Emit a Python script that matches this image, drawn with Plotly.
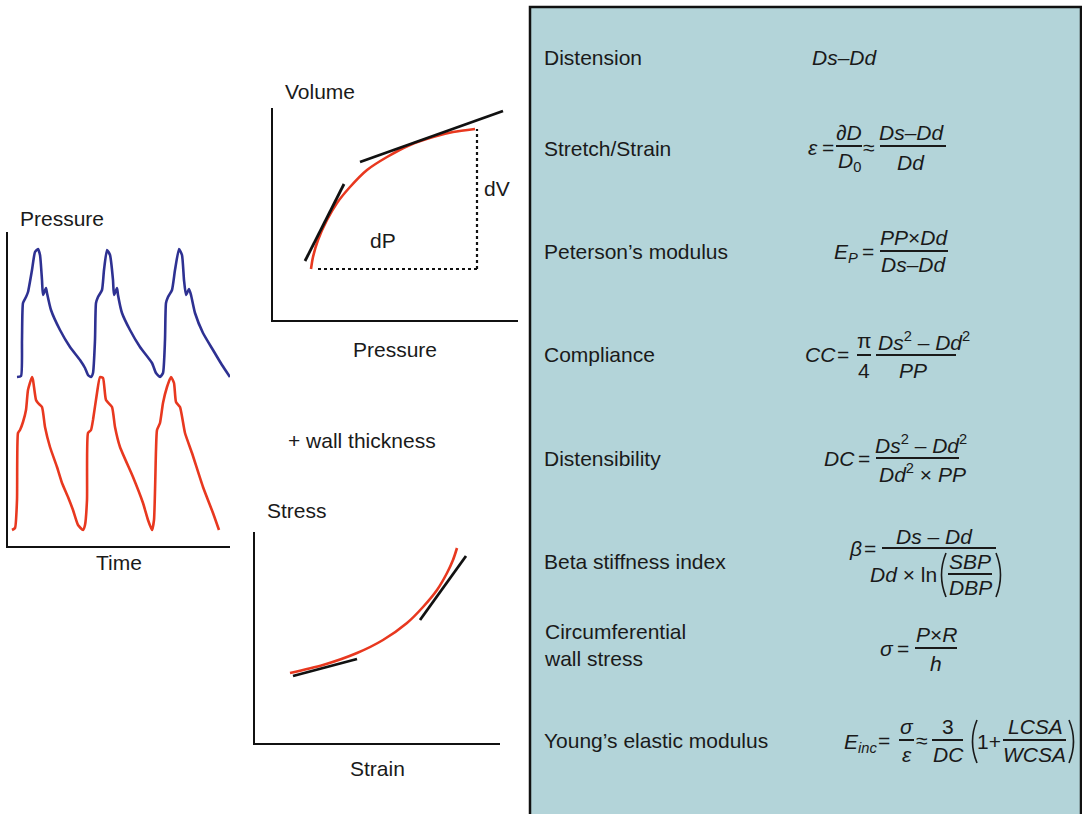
import plotly.graph_objects as go

W, H = 1082, 814

# ---------------- data ----------------
# Panel 1: pressure waveforms vs time (arbitrary units)
central_time = [9, 13, 14, 15, 18, 20, 24, 27, 30, 32, 34, 35, 38, 39, 43, 52, 62, 72, 77, 80, 83,
                85, 87, 88, 90, 94, 96, 99, 102, 105, 106, 109, 110, 114, 122, 132, 144, 148, 152,
                155, 157, 158, 160, 164, 167, 171, 174, 176, 178, 181, 183, 187, 195, 205, 214, 222]
central_pressure = [169, 170, 206, 243, 249, 254, 276, 294, 297, 291, 266, 251, 258, 253, 236, 216, 199, 186, 178, 171, 169,
                    173, 206, 243, 249, 256, 276, 296, 291, 266, 251, 258, 251, 233, 216, 199, 183, 173, 169,
                    173, 206, 243, 249, 256, 276, 297, 291, 266, 251, 257, 251, 233, 213, 196, 181, 169]

peripheral_time = [4, 7, 9, 10, 12, 15, 18, 20, 24, 25, 28, 30, 34, 37, 42, 49, 54, 60, 65, 70, 75,
                   77, 79, 80, 83, 85, 89, 92, 95, 98, 104, 107, 112, 125, 135, 140, 144,
                   146, 148, 149, 152, 155, 159, 163, 166, 168, 172, 177, 184, 195, 205, 211]
peripheral_pressure = [16, 18, 46, 113, 116, 124, 136, 156, 169, 166, 146, 143, 139, 119, 99, 79, 63, 49, 36, 21, 16,
                       21, 46, 113, 116, 126, 153, 169, 168, 146, 139, 119, 99, 69, 43, 26, 16,
                       26, 96, 116, 123, 143, 159, 169, 163, 144, 139, 113, 93, 59, 33, 16]

# Panel 2: volume vs pressure
pv_pressure = [38, 40, 45, 54, 64, 77, 94, 114, 137, 160, 180, 202]
pv_volume = [51, 63, 80, 100, 117, 133, 150, 163, 175, 183, 188, 191]
pv_tan_low_p, pv_tan_low_v = [32, 71], [59, 136]
pv_tan_high_p, pv_tan_high_v = [87, 230], [158, 209]
pv_dp_p, pv_dp_v = [45, 204], [51, 51]
pv_dv_p, pv_dv_v = [204, 204], [51, 191]

# Panel 3: stress vs strain
ss_strain = [35, 68, 102, 128, 152, 168, 182, 192, 198, 202]
ss_stress = [70, 78, 90, 103, 120, 136, 153, 170, 183, 195]
ss_tan_low_e, ss_tan_low_s = [38, 102], [67, 84]
ss_tan_high_e, ss_tan_high_s = [165, 211], [123, 187]

# Right panel: parameter names
param_names = ["Distension", "Stretch/Strain", "Peterson\u2019s modulus", "Compliance",
               "Distensibility", "Beta stiffness index", "Circumferential<br>wall stress",
               "Young\u2019s elastic modulus"]
param_rows = [58, 148, 251, 354, 458, 561, 645, 740]

# ---------------- styles ----------------
BLUE = "#2e3192"
RED = "#e8381f"
BLACK = "#111111"
TXT = "#1a1a1a"
FONT = "Liberation Sans, Arial, Helvetica, sans-serif"
BOX = "#b3d4d9"
FS = 21

fig = go.Figure()

def px(x):
    return x / W

def py(y):
    return 1 - y / H

# panel axes (domain given in pixels)
panels = {
    "1": dict(x=(8, 230), y=(546, 232), xr=(0, 222), yr=(0, 314)),
    "2": dict(x=(273, 518), y=(320, 108), xr=(0, 245), yr=(0, 212)),
    "3": dict(x=(255, 500), y=(743, 532), xr=(0, 245), yr=(0, 211)),
}
for k, p in panels.items():
    xa = "xaxis" if k == "1" else f"xaxis{k}"
    ya = "yaxis" if k == "1" else f"yaxis{k}"
    yid = "y" if k == "1" else f"y{k}"
    xid = "x" if k == "1" else f"x{k}"
    fig.layout[xa] = dict(domain=[px(p["x"][0]), px(p["x"][1])], range=list(p["xr"]), anchor=yid,
                          showline=True, linecolor=BLACK, linewidth=2, showgrid=False, zeroline=False,
                          showticklabels=False, ticks="", fixedrange=True)
    fig.layout[ya] = dict(domain=[py(p["y"][0]), py(p["y"][1])], range=list(p["yr"]), anchor=xid,
                          showline=True, linecolor=BLACK, linewidth=2, showgrid=False, zeroline=False,
                          showticklabels=False, ticks="", fixedrange=True)

def line(x, y, color, ax, width=2.6, dash=None, shape="linear", smoothing=None):
    ln = dict(color=color, width=width, shape=shape)
    if dash:
        ln["dash"] = dash
    if smoothing is not None:
        ln["smoothing"] = smoothing
    xa = "x" if ax == "1" else f"x{ax}"
    ya = "y" if ax == "1" else f"y{ax}"
    fig.add_trace(go.Scatter(x=x, y=y, mode="lines", line=ln, xaxis=xa, yaxis=ya,
                             hoverinfo="skip", showlegend=False, cliponaxis=False))

line(central_time, central_pressure, BLUE, "1", shape="spline", smoothing=0.5)
line(peripheral_time, peripheral_pressure, RED, "1", shape="spline", smoothing=0.5)

line(pv_pressure, pv_volume, RED, "2", shape="spline", smoothing=0.8)
line(pv_tan_low_p, pv_tan_low_v, BLACK, "2", width=2.8)
line(pv_tan_high_p, pv_tan_high_v, BLACK, "2", width=2.8)
line(pv_dp_p, pv_dp_v, BLACK, "2", width=2.2, dash="dot")
line(pv_dv_p, pv_dv_v, BLACK, "2", width=2.2, dash="dot")

line(ss_strain, ss_stress, RED, "3", shape="spline", smoothing=0.8)
line(ss_tan_low_e, ss_tan_low_s, BLACK, "3", width=2.8)
line(ss_tan_high_e, ss_tan_high_s, BLACK, "3", width=2.8)

annotations = []
shapes = []

def txt(x, y, s, size=FS, anchor="center"):
    annotations.append(dict(x=px(x), y=py(y), xref="paper", yref="paper", text=s, showarrow=False,
                            xanchor=anchor, yanchor="middle", align=anchor if anchor != "center" else "center",
                            font=dict(family=FONT, size=size, color=TXT)))

def bar(x0, x1, y):
    shapes.append(dict(type="line", xref="paper", yref="paper", x0=px(x0), x1=px(x1),
                       y0=py(y), y1=py(y), line=dict(color=TXT, width=2)))

def paren(x, y0, y1, left=True):
    # thin curved parenthesis
    bulge = -9 if left else 9
    ym = (y0 + y1) / 2
    path = (f"M {px(x):.5f},{py(y0):.5f} Q {px(x + bulge):.5f},{py(ym):.5f} "
            f"{px(x):.5f},{py(y1):.5f}")
    shapes.append(dict(type="path", xref="paper", yref="paper", path=path,
                       line=dict(color=TXT, width=1.6)))

# right box
shapes.append(dict(type="rect", xref="paper", yref="paper", x0=px(530), x1=px(1081),
                   y0=py(840), y1=py(7), fillcolor=BOX, line=dict(color=BLACK, width=2.5),
                   layer="below"))

# axis labels of the small plots
txt(62, 218, "Pressure")
txt(119, 562, "Time")
txt(320, 91, "Volume")
txt(395, 350, "Pressure")
txt(497, 188, "dV")
txt(383, 241, "dP")
txt(362, 440, "+ wall thickness")
txt(297, 511, "Stress")
txt(377, 768, "Strain")

for name, row in zip(param_names, param_rows):
    txt(542, row, name, anchor="left")

# formulas
# Distension
txt(845, 58, "<i>Ds\u2013Dd</i>")
# Stretch / strain
txt(813, 147, "<i>\u03b5</i>")
txt(828, 147, "=")
txt(849, 132, "<i>\u2202D</i>")
bar(836, 862, 146)
txt(849, 162, "<i>D</i><sub>0</sub>")
txt(869, 147, "\u2248")
txt(912, 132, "<i>Ds\u2013Dd</i>")
bar(880, 946, 146)
txt(911, 162, "<i>Dd</i>")
# Peterson
txt(846, 253, "<i>E<sub>P</sub></i>")
txt(868, 251, "=")
txt(914, 237, "<i>PP</i>\u00d7<i>Dd</i>")
bar(880, 948, 251)
txt(914, 265, "<i>Ds\u2013Dd</i>")
# Compliance
txt(820, 354, "<i>CC</i>")
txt(843, 354, "=")
txt(864, 341, "\u03c0")
bar(857, 871, 355)
txt(864, 370, "4")
txt(924, 341, "<i>Ds</i><sup>2</sup> \u2013 <i>Dd</i><sup>2</sup>")
bar(876, 956, 355)
txt(913, 370, "<i>PP</i>")
# Distensibility
txt(839, 458, "<i>DC</i>")
txt(864, 458, "=")
txt(921, 444, "<i>Ds</i><sup>2</sup> \u2013 <i>Dd</i><sup>2</sup>")
bar(876, 959, 458)
txt(922, 473, "<i>Dd</i><sup>2</sup> \u00d7 <i>PP</i>")
# Beta
txt(855, 548, "<i>\u03b2</i>")
txt(870, 548, "=")
txt(935, 536, "<i>Ds</i> \u2013 <i>Dd</i>")
bar(882, 996, 548)
txt(903, 574, "<i>Dd</i> \u00d7 ln")
paren(946, 553, 597, left=True)
txt(970, 561, "<i>SBP</i>")
bar(948, 992, 574)
txt(970, 587, "<i>DBP</i>")
paren(996, 553, 597, left=False)
# Circumferential wall stress
txt(887, 648, "<i>\u03c3</i>")
txt(903, 648, "=")
txt(936, 634, "<i>P</i>\u00d7<i>R</i>")
bar(915, 957, 648)
txt(936, 663, "<i>h</i>")
# Young's modulus
txt(860, 743, "<i>E<sub>inc</sub></i>")
txt(884, 740, "=")
txt(907, 726, "<i>\u03c3</i>")
bar(899, 914, 740)
txt(907, 754, "<i>\u03b5</i>")
txt(922, 740, "\u2248")
txt(948, 726, "3")
bar(932, 963, 740)
txt(948, 754, "<i>DC</i>")
paren(977, 720, 763, left=True)
txt(989, 741, "1+")
txt(1035, 726, "<i>LCSA</i>")
bar(1003, 1066, 740)
txt(1034, 754, "<i>WCSA</i>")
paren(1069, 720, 763, left=False)

fig.update_layout(width=W, height=H, autosize=False,
                  margin=dict(l=0, r=0, t=0, b=0),
                  paper_bgcolor="white", plot_bgcolor="rgba(0,0,0,0)",
                  annotations=annotations, shapes=shapes,
                  font=dict(family=FONT, size=FS, color=TXT), showlegend=False)

fig.write_html("out.html", config={"displayModeBar": False},
               post_script="document.body.style.margin='0';")
